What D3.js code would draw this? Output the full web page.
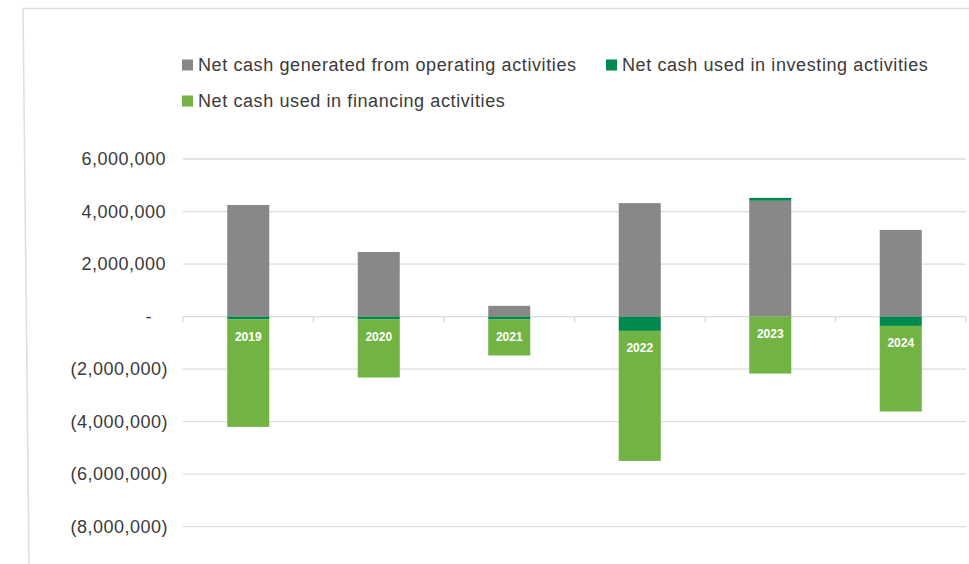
<!DOCTYPE html>
<html>
<head>
<meta charset="utf-8">
<script src="https://cdn.jsdelivr.net/npm/d3@7"></script>
<style>
  body { margin: 0; background: #fff; }
  text { font-family: "Liberation Sans", Arial, Helvetica, sans-serif; }
</style>
</head>
<body>
<div id="chart"></div>
<script>
// values
var years = ["2019", "2020", "2021", "2022", "2023", "2024"];
var operating = [4250000, 2460000, 410000, 4320000, 4410000, 3300000];
var investing = [-110000, -110000, -110000, -545000, 110000, -355000];
var financing = [-4090000, -2210000, -1370000, -4950000, -2170000, -3260000];
var yTicks = [6000000, 4000000, 2000000, 0, -2000000, -4000000, -6000000, -8000000];

var seriesNames = ["Net cash generated from operating activities",
                   "Net cash used in investing activities",
                   "Net cash used in financing activities"];
var keys = ["operating", "investing", "financing"];
var colors = ["#888886", "#00894e", "#71b443"];

var w = 969;
var h = 564;

var table = years.map(function (y, i) {
    return {year: y, operating: operating[i], investing: investing[i], financing: financing[i]};
});

var svg = d3.select("#chart")
    .append("svg")
    .attr("width", w)
    .attr("height", h);

svg.append("rect")
    .attr("width", w)
    .attr("height", h)
    .attr("fill", "#fff");

// card border (top + left)
svg.append("line")
    .attr("x1", 23).attr("y1", 8.5).attr("x2", w).attr("y2", 8.5)
    .attr("stroke", "#dedede").attr("stroke-width", 1.5);
svg.append("line")
    .attr("x1", 23).attr("y1", 8).attr("x2", 29).attr("y2", h)
    .attr("stroke", "#dedede").attr("stroke-width", 1.5);

var x = d3.scaleBand()
    .domain(years)
    .range([183, 966])
    .paddingInner(0.678)
    .paddingOuter(0.339);

var y = d3.scaleLinear()
    .domain([-8000000, 6000000])
    .range([526.7, 159]);

// gridlines
svg.append("g")
    .selectAll("line")
    .data(yTicks)
    .enter().append("line")
    .attr("x1", 183)
    .attr("x2", 966)
    .attr("y1", function (d) { return y(d); })
    .attr("y2", function (d) { return y(d); })
    .attr("stroke", "#dcdcdc")
    .attr("stroke-width", 1.3);

// y axis labels (accounting style)
function fmt(d) {
    if (d == 0) return "-";
    var s = d3.format(",")(Math.abs(d));
    return d < 0 ? "(" + s + ")" : s;
}
var yAxis = d3.axisLeft(y)
    .tickValues(yTicks)
    .tickFormat(fmt)
    .tickSize(0)
    .tickPadding(0);
var gY = svg.append("g")
    .attr("transform", "translate(166,0)")
    .call(yAxis);
gY.select(".domain").remove();
gY.selectAll("text")
    .attr("font-size", 18)
    .attr("letter-spacing", 0.5)
    .attr("fill", "#3a3a3a")
    .attr("font-family", "Liberation Sans, Arial, sans-serif")
    .attr("x", function (d) { return d == 0 ? -14 : (d < 0 ? 2 : 0); });

// category ticks on zero line
var bounds = d3.range(years.length + 1).map(function (i) { return 183 + i * x.step(); });
svg.append("g")
    .selectAll("line")
    .data(bounds)
    .enter().append("line")
    .attr("x1", function (d) { return d; })
    .attr("x2", function (d) { return d; })
    .attr("y1", y(0))
    .attr("y2", y(0) + 6)
    .attr("stroke", "#dcdcdc")
    .attr("stroke-width", 1.3);

var stack = d3.stack()
    .keys(keys)
    .offset(d3.stackOffsetDiverging);
var layers = stack(table);

svg.append("g")
    .selectAll("g")
    .data(layers)
    .enter().append("g")
    .attr("fill", function (d, i) { return colors[i]; })
    .selectAll("rect")
    .data(function (d) { return d; })
    .enter().append("rect")
    .attr("x", function (d) { return x(d.data.year); })
    .attr("width", x.bandwidth())
    .attr("y", function (d) { return y(Math.max(d[0], d[1])); })
    .attr("height", function (d) { return Math.abs(y(d[0]) - y(d[1])); });

// year labels inside the financing segment
svg.append("g")
    .selectAll("text")
    .data(layers[2])
    .enter().append("text")
    .attr("x", function (d) { return x(d.data.year) + x.bandwidth() / 2; })
    .attr("y", function (d) { return y(d[1]) + 17; })
    .attr("dy", "0.35em")
    .attr("text-anchor", "middle")
    .attr("font-size", 12)
    .attr("font-weight", "bold")
    .attr("fill", "#fff")
    .text(function (d) { return d.data.year; });

// legend
var legendPos = [[182, 65], [606, 65], [182, 101]];
var legend = svg.append("g")
    .selectAll("g")
    .data(seriesNames)
    .enter().append("g")
    .attr("transform", function (d, i) { return "translate(" + legendPos[i][0] + "," + legendPos[i][1] + ")"; });
legend.append("rect")
    .attr("x", 0)
    .attr("y", -5.5)
    .attr("width", 11)
    .attr("height", 11)
    .attr("fill", function (d, i) { return colors[i]; });
legend.append("text")
    .attr("x", 16)
    .attr("dy", "0.35em")
    .attr("font-size", 18)
    .attr("letter-spacing", 0.6)
    .attr("fill", "#3a3a3a")
    .text(function (d) { return d; });
</script>
</body>
</html>
